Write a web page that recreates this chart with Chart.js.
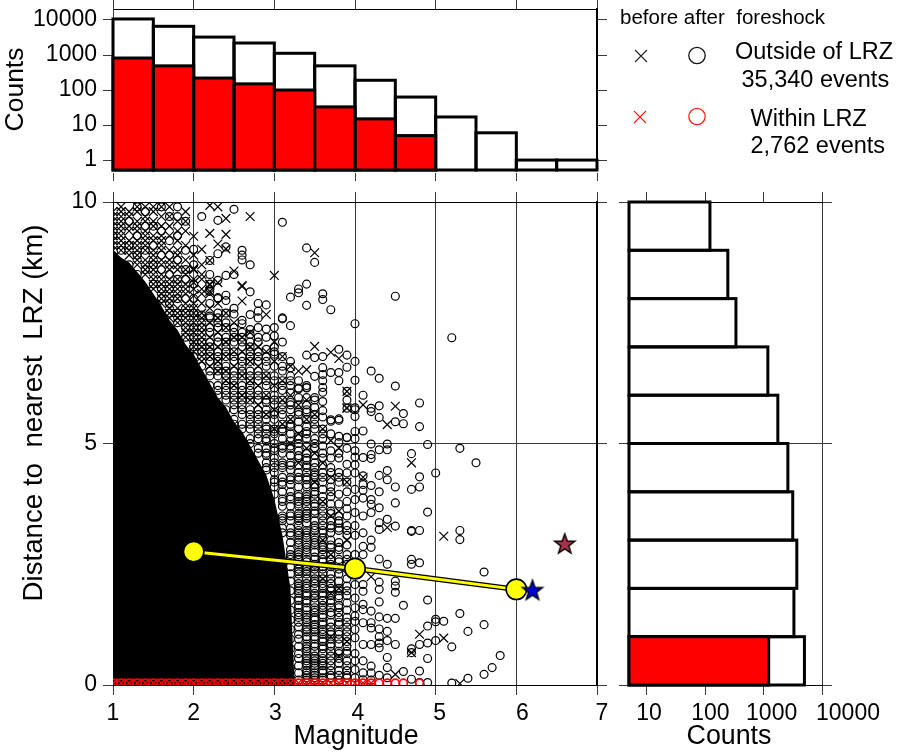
<!DOCTYPE html>
<html><head><meta charset="utf-8">
<style>html,body{margin:0;padding:0;background:#fff;width:898px;height:753px;overflow:hidden}
canvas{position:absolute}</style>
<script src="https://cdn.jsdelivr.net/npm/chart.js@4"></script>
</head><body>
<canvas id="top" width="898" height="195" style="left:0;top:0"></canvas>
<canvas id="main" width="610" height="568" style="left:0;top:185px"></canvas>
<canvas id="side" width="288" height="568" style="left:610px;top:185px"></canvas>
<script>
// ---------- histograms ----------
const magBinCentres=[1.25,1.75,2.25,2.75,3.25,3.75,4.25,4.75,5.25,5.75,6.25,6.75];
const magCountsAll=[10700,6600,3250,2200,1120,490,190,63,17,6,1,1];
const magCountsWithin=[820,490,220,150,100,33,15,5];
const distBinCentres=[0.5,1.5,2.5,3.5,4.5,5.5,6.5,7.5,8.5,9.5];
const distCountsAll=[5000,3300,3700,3150,2600,1750,1180,335,243,120];
const distCountsWithin=[1220];
const countTicks=[1,10,100,1000,10000];
const sideCountTicks=[10,100,1000,10000];
const magTicks=[1,2,3,4,5,6,7];
const distTicks=[0,5,10];
// ---------- magnitude-binned means and the two mainshocks ----------
const meanMag=[2,4,6];
const meanDist=[2.76,2.41,1.98];
const starBlue=[6.2,1.96];
const starMaroon=[6.6,2.92];
// ---------- saturated black region: upper edge of solid ink ----------
const edgeM=[1.0,1.1,1.2,1.3,1.4,1.5,1.6,1.7,1.8,1.9,2.0,2.1,2.2,2.3,2.4,2.5,2.6,2.7,2.8,2.9,3.0,3.1,3.2,3.25];
const edgeD=[9.0,8.85,8.75,8.55,8.35,8.1,7.85,7.55,7.35,7.05,6.85,6.55,6.25,5.95,5.75,5.45,5.25,4.95,4.65,4.35,3.85,3.1,2.0,0];
// ---------- within LRZ (distance zero) ----------
const withinDist=0.04;
const withinCircleM=[1.0,1.1,1.2,1.3,1.4,1.5,1.6,1.7,1.8,1.9,2.0,2.1,2.2,2.3,2.4,2.5,2.6,2.7,2.8,2.9,3.0,3.1,3.2,3.3,3.4,3.5,3.6,3.7,3.8,3.9,4.0,4.1,4.2,4.3,4.4,4.5,4.6,4.8];
const withinCrossM=[1.0,1.1,1.2,1.3,1.4,1.5,1.6,1.7,1.8,1.9,2.0,2.1,2.2,2.3,2.4,2.5,2.6,2.7,2.8,2.9,3.0,3.1,3.2,3.3,3.4,3.5,3.6,3.7,3.8,3.9,4.0,4.1,4.2];
// ---------- outside LRZ, after foreshock (circles), distances per magnitude ----------
const after10=[9.3,8.8];
const after11=[9.0,8.6];
const after12=[9.6,9.1,8.7];
const after13=[9.9,9.3,8.9,8.5];
const after14=[9.8,9.5,9.0,8.6];
const after15=[9.5,9.1,8.7,8.3];
const after16=[9.9,9.4,8.9,8.6,8.2,8.0];
const after17=[9.7,9.2,8.9,8.5,8.2,7.9,7.7];
const after18=[9.9,9.7,9.3,8.8,8.4,8.0,7.7,7.5];
const after19=[9.6,9.0,8.6,8.4,8.0,7.7,7.4,7.2];
const after20=[9.02,8.7,8.3,8.0,7.7,7.4,7.2,7.0,6.8];
const after21=[9.7,7.66,7.4,7.1,6.9,6.6,6.3,6.1];
const after22=[8.79,8.3,8.15,7.64,7.4,7.1,6.9,6.7,6.4,6.2,6.0,8.5,7.9,7.6,7.3,7.0,6.8,6.5];
const after23=[9.62,8.93,8.38,8.02,7.7,7.5,7.2,6.9,6.7,6.5,6.2,6.0,5.8,8.0,7.6,7.4,7.1,6.8,6.6,6.4,6.1];
const after24=[9.07,8.48,8.07,7.96,7.7,7.4,7.2,7.0,6.8,6.5,6.3,6.1,5.9,5.7,7.5,7.1,6.9,6.6,6.4,6.2,6.0];
const after25=[9.85,8.5,7.8,7.68,7.4,7.2,6.9,6.7,6.5,6.3,6.1,5.9,5.7,5.5,5.4,7.3,7.1,6.8,6.4,6.2,6.0,5.8];
const after26=[9.0,8.9,8.8,7.55,7.48,7.2,7.0,6.8,6.6,6.4,6.2,6.0,5.8,5.6,5.4,5.3,7.3,7.1,6.7,6.5,6.1,5.9,5.7];
const after27=[8.7,8.14,7.67,7.36,7.26,7.0,6.9,6.7,6.5,6.3,6.1,5.9,5.7,5.5,5.3,5.1,5.0,7.1,6.8,6.4,6.2,6.0,5.6,5.4];
const after28=[7.9,7.74,7.6,7.2,6.9,6.7,6.5,6.3,6.1,5.9,5.7,5.5,5.3,5.1,4.9,4.8,7.4,7.1,6.8,6.4,6.0,5.6,5.4,5.2];
const after29=[7.87,7.37,6.95,6.8,6.6,6.4,6.2,6.0,5.85,5.7,5.5,5.35,5.2,5.05,4.9,4.75,4.6,4.45,7.2,6.7,6.3,5.9,5.6,5.3,5.1,4.8,4.5];
const after30=[7.4,7.23,7.0,6.85,6.6,6.3,6.15,6.0,5.8,5.65,5.5,5.3,5.2,5.0,4.85,4.7,4.6,4.4,4.25,4.1,3.95,6.9,6.4,5.9,5.6,5.25,4.9,4.5,4.2];
const after31=[9.58,7.6,7.58,7.1,6.8,6.5,6.3,6.1,5.9,5.7,5.6,5.4,5.25,5.1,4.9,4.8,4.6,4.5,4.3,4.15,4.0,3.85,3.7,3.5,3.4,3.25,6.6,6.2,5.8,5.3,4.95,4.55,4.2,3.8,3.45,3.15];
const after32=[8.03,7.44,6.7,6.57,6.4,6.2,6.05,5.85,5.7,5.5,5.35,5.2,5.05,4.9,4.75,4.6,4.45,4.3,4.15,4.0,3.85,3.7,3.55,3.4,3.25,3.1,2.95,2.8,2.65,6.3,5.8,5.4,4.95,4.55,4.25,3.9,3.5,3.15,2.7,2.45,2.6,2.3,2.15,1.95,1.75,1.55,1.35,1.15,0.95,0.75,0.55,0.35,0.15];
const after33=[8.2,8.12,6.15,6.13,5.95,5.8,5.6,5.45,5.3,5.15,5.0,4.85,4.7,4.55,4.4,4.25,4.1,3.95,3.8,3.7,3.55,3.4,3.3,3.15,3.0,2.9,2.75,2.6,2.5,2.35,2.2,2.05,1.95,1.8,1.65,1.5,1.4,6.3,5.65,5.1,4.75,4.3,3.9,3.5,3.1,2.7,2.4,2.0,1.6,1.45,1.3,1.2,1.05,0.95,0.8,0.65,0.55,0.4,0.25,0.1,3.75,3.45,3.2,2.95,2.65,2.3,2.1,1.9,1.75];
const after34=[9.05,8.3,7.86,6.83,6.16,6.15,5.95,5.8,5.65,5.5,5.35,5.25,5.1,4.95,4.8,4.65,4.55,4.4,4.25,4.1,3.95,3.8,3.6,3.5,3.35,3.2,3.05,2.9,2.75,2.6,2.45,2.3,2.2,2.05,1.9,1.75,1.6,1.45,1.3,1.15,1.0,0.85,0.7,0.55,0.4,0.25,0.1,6.2,5.7,5.2,4.7,4.3,3.9,3.55,3.15,2.8,2.4,2.1,1.7,1.4,1.1,0.8,0.5,0.2,3.7,3.45,3.1,2.85,2.55,2.35,2.0,1.85,1.55,1.35,1.2,0.95,0.75,0.6,0.45,0.3,0.15,4.5,4.15,3.85];
const after35=[8.75,6.78,6.39,5.95,5.75,5.6,5.4,5.3,5.1,4.9,4.75,4.6,4.4,4.3,4.15,4.0,3.85,3.7,3.55,3.4,3.2,3.05,2.9,2.75,2.6,2.45,2.3,2.15,2.0,1.85,1.7,1.55,1.4,1.25,1.1,0.95,0.8,0.6,0.5,0.35,0.2,0.1,5.9,5.5,5.0,4.5,4.1,3.75,3.3,2.95,2.5,2.2,1.8,1.5,1.15,0.7,0.4,3.6,3.25,3.0,2.65,2.4,2.1,1.9,1.6,1.35,1.2,1.0,0.85,0.55,0.45,0.25,0.15,4.35,3.95];
const after36=[8.1,7.98,6.8,6.57,6.43,6.3,6.16,6.06,5.87,5.68,5.55,5.3,5.1,4.95,4.7,4.55,4.4,4.2,4.05,3.9,3.7,3.6,3.4,3.2,3.05,2.9,2.7,2.55,2.4,2.2,2.05,1.9,1.75,1.55,1.4,1.25,1.05,0.9,0.75,0.55,0.4,0.25,0.1,5.2,4.8,4.3,3.8,3.3,2.8,2.45,2.0,1.6,1.15,0.8,0.5,3.5,3.15,2.85,2.6,2.3,2.1,1.85,1.65,1.45,1.3,1.1,0.95,0.65,0.45,0.3,0.15];
const after37=[7.77,6.47,5.49,5.46,5.2,4.85,4.7,4.4,4.25,4.1,3.9,3.75,3.55,3.4,3.15,3.0,2.85,2.6,2.45,2.3,2.1,1.95,1.75,1.6,1.45,1.2,1.05,0.85,0.7,0.5,0.3,0.15,4.5,4.0,3.3,2.7,2.2,1.7,1.3,0.95,0.6,3.6,3.25,2.9,2.5,2.0,1.85,1.5,1.1,0.8,0.4,0.2];
const after38=[6.95,6.47,6.3,5.51,5.48,5.15,5.02,4.7,4.4,4.2,3.95,3.75,3.5,3.35,3.2,2.95,2.8,2.55,2.3,2.15,1.95,1.8,1.6,1.4,1.25,1.05,0.85,0.65,0.45,0.3,0.1,4.8,4.3,3.4,2.6,2.0,1.5,1.1,0.7,3.25,2.85,2.4,1.85,1.65,1.3,0.95,0.55,0.2];
const after39=[6.83,6.58,6.08,5.9,5.73,5.13,5.12,4.57,4.39,4.2,4.0,3.8,3.65,3.3,3.1,2.9,2.7,2.4,2.2,2.05,1.85,1.55,1.4,1.2,1.0,0.8,0.65,0.5,0.3,0.15,4.9,3.5,2.6,1.7,1.1,0.7,3.2,2.5,1.95,1.3,0.9,0.4,0.2];
const after40=[7.48,6.7,6.31,5.74,5.7,5.56,5.25,5.1,4.85,4.72,4.56,4.39,4.05,3.84,3.57,3.3,3.1,2.7,2.08,1.8,1.6,1.43,1.32,1.15,0.98,0.65,0.5,0.32,0.15];
const after41=[6.0,5.26,4.71,4.33,4.15,4.03,3.87,3.5,3.15,2.87,2.7,2.08,1.94,1.67,1.56,1.29,0.84,0.5,0.25,0.11];
const after42=[6.5,5.73,5.66,4.99,4.77,4.69,4.13,3.84,3.74,3.57,3.0,2.85,1.53,1.29,1.18,0.84,0.39,0.25,0.1];
const after43=[6.35,5.78,5.54,4.87,4.34,4.0,3.67,3.36,3.22,2.61,2.13,1.98,1.72,1.41,1.16,1.0,0.87,0.77,0.2];
const after44=[4.99,4.87,4.44,4.25,3.43,2.5,1.38,1.11,0.92,0.57,0.36,0.15];
const after45=[8.05,6.19,5.45,4.1,3.77,3.29,2.15,2.05,1.92,1.38,0.84];
const after46=[5.62,5.41,1.65,0.28];
const after47=[4.79,4.05,3.2,3.18,2.6,2.5,0.75,0.67,0.12];
const after48=[5.84,5.35,4.31,4.1,3.2,2.53,0.84,0.29,0.05];
const after49=[4.98,3.58,1.76,1.22,0.87,0.55,0.05];
const after50=[4.39,1.36,1.31,0.92];
const after51=[1.32];
const after52=[7.19,0.79,0.04];
const after53=[4.9,3.2,3.01,1.48];
const after54=[1.11,0.14];
const after55=[4.6];
const after56=[2.34,1.25,0.22];
const after57=[0.36];
const after58=[0.61];
const afterColumns=[[1.0,after10],[1.1,after11],[1.2,after12],[1.3,after13],[1.4,after14],[1.5,after15],[1.6,after16],[1.7,after17],[1.8,after18],[1.9,after19],[2.0,after20],[2.1,after21],[2.2,after22],[2.3,after23],[2.4,after24],[2.5,after25],[2.6,after26],[2.7,after27],[2.8,after28],[2.9,after29],[3.0,after30],[3.1,after31],[3.2,after32],[3.3,after33],[3.4,after34],[3.5,after35],[3.6,after36],[3.7,after37],[3.8,after38],[3.9,after39],[4.0,after40],[4.1,after41],[4.2,after42],[4.3,after43],[4.4,after44],[4.5,after45],[4.6,after46],[4.7,after47],[4.8,after48],[4.9,after49],[5.0,after50],[5.1,after51],[5.2,after52],[5.3,after53],[5.4,after54],[5.5,after55],[5.6,after56],[5.7,after57],[5.8,after58]];
// ---------- outside LRZ, before foreshock (crosses) ----------
const before10=[9.8,9.6,9.4,9.2,9.0,9.7,9.5,9.3,9.1];
const before11=[9.9,9.7,9.5,9.3,9.1,9.8,9.6,9.4,9.2,9.0];
const before12=[9.8,9.5,9.2,9.0,9.7,9.4,9.1,8.9];
const before13=[9.9,9.6,9.4,9.1,8.9,8.7,9.8,9.5,9.2,9.0,8.8];
const before14=[9.7,9.4,9.2,9.0,8.7,8.5,9.9,9.6,9.3,9.1,8.8,8.6];
const before15=[9.9,9.6,9.3,9.0,8.8,8.6,8.4,8.2,9.8,9.5,9.2,8.9,8.7,8.5,8.3];
const before16=[9.7,9.3,9.1,8.8,8.5,8.3,8.1,7.9,9.9,9.5,9.2,9.0,8.7,8.4,8.2,8.0];
const before17=[9.9,9.5,9.0,8.7,8.4,8.2,8.0,7.8,7.6,9.7,9.3,8.8,8.6,8.3,8.1,7.9,7.7];
const before18=[9.6,9.2,8.9,8.6,8.3,8.1,7.8,7.6,9.4,9.0,8.7,8.4,8.2,8.0,7.7,7.5];
const before19=[9.8,9.4,8.8,8.5,8.2,7.9,7.7,7.5,7.3,9.6,9.1,8.6,8.3,8.1,7.8,7.6,7.4,7.2];
const before20=[9.29,8.62,8.6,8.33,8.06,7.8,7.6,7.4,7.2,7.0,8.9,8.4,8.2,7.9,7.7,7.5,7.3,7.1,6.9];
const before21=[9.02,8.4,8.1,7.7,7.5,7.3,7.1,6.9,6.7,8.7,8.5,8.2,7.9,7.6,7.4,7.2,7.0,6.8];
const before22=[9.93,9.35,8.79,8.3,8.28,8.15,8.1,7.8,7.5,7.2,7.0,6.8,6.6];
const before23=[9.9,9.13,8.33,7.9,7.6,7.3,7.0,6.7,6.5];
const before24=[9.66,9.33,9.03,7.7,7.4,7.1,6.8,6.5,6.3];
const before25=[8.57,7.5,7.2,6.9,6.6,6.2];
const before26=[8.27,8.25,7.95,7.2,6.9,6.4,6.0];
const before27=[9.7,7.3,7.0,6.7,6.3,5.9];
const before28=[7.0,6.6,6.2,5.8];
const before29=[7.67,6.9,6.4,6.0,5.6];
const before30=[8.48,7.1,6.7,6.2,5.7,5.3];
const before31=[6.8,6.3,5.9,5.4];
const before32=[6.6,6.0,5.5,5.0];
const before33=[6.5,5.8,5.2,4.6];
const before34=[6.53,5.9,5.5,4.9];
const before35=[8.95,7.01,5.6,4.8,4.2];
const before36=[5.3,4.6,3.8,3.0,2.2];
const before37=[6.89,5.06,4.3,3.5,2.7,1.9,1.0];
const before38=[6.76,4.9,3.6,2.0,0.6];
const before39=[6.08,5.74,5.73,4.2,3.0,0.9];
const before41=[5.8,4.3];
const before42=[2.24];
const before44=[5.39,3.26];
const before45=[5.77,0.22];
const before47=[4.6,0.67];
const before48=[1.05];
const before51=[3.08,0.97];
const before53=[0.03];
const beforeColumns=[[1.0,before10],[1.1,before11],[1.2,before12],[1.3,before13],[1.4,before14],[1.5,before15],[1.6,before16],[1.7,before17],[1.8,before18],[1.9,before19],[2.0,before20],[2.1,before21],[2.2,before22],[2.3,before23],[2.4,before24],[2.5,before25],[2.6,before26],[2.7,before27],[2.8,before28],[2.9,before29],[3.0,before30],[3.1,before31],[3.2,before32],[3.3,before33],[3.4,before34],[3.5,before35],[3.6,before36],[3.7,before37],[3.8,before38],[3.9,before39],[4.1,before41],[4.2,before42],[4.4,before44],[4.5,before45],[4.7,before47],[4.8,before48],[5.1,before51],[5.3,before53]];

// ---------- texts ----------
const legendHeader="before after  foreshock";
const legendOutside=["Outside of LRZ","35,340 events"];
const legendWithin=["Within LRZ","2,762 events"];
const distanceTitle="Distance to  nearest  LRZ (km)";
const sideTitle="Counts";
const magnitudeTitle="Magnitude";

const FONT='"Liberation Sans", Arial, Helvetica, sans-serif';
const INK='#000', AXIS='#3a3a3a';
const flat=cols=>cols.flatMap(([m,ds])=>ds.map(d=>({x:m,y:d})));
const pairs=(xs,ys)=>xs.map((x,i)=>({x,y:Array.isArray(ys)?ys[i]:ys}));

Chart.defaults.font.family=FONT;
Chart.defaults.color=INK;
Chart.defaults.animation=false;
Chart.defaults.events=[];
Chart.defaults.plugins.legend.display=false;
Chart.defaults.plugins.tooltip.enabled=false;

function starImage(fill){
  const c=document.createElement('canvas');c.width=c.height=26;
  const g=c.getContext('2d');g.beginPath();
  for(let i=0;i<10;i++){const r=i%2?4.3:10.6,a=-Math.PI/2+i*Math.PI/5;
    g[i?'lineTo':'moveTo'](13+r*Math.cos(a),13.5+r*Math.sin(a));}
  g.closePath();g.fillStyle=fill;g.fill();g.lineWidth=1.4;g.strokeStyle=INK;g.stroke();
  return c;
}
const fixed=(size,isX)=>s=>{ if(isX) s.height=size; else s.width=size;
  s.paddingTop=s.paddingBottom=s.paddingLeft=s.paddingRight=0; };
const setTicks=vals=>s=>{s.ticks=vals.map(v=>({value:v}));};
const tickFont={size:23,family:FONT};

// outline every bar with a stroke centred on its edge
const barOutline={id:'barOutline',afterDatasetDraw(chart,args){
  const g=chart.ctx;g.save();g.lineWidth=3;g.strokeStyle=INK;g.lineJoin='miter';
  args.meta.data.forEach(el=>{
    const p=el.getProps(['x','y','base','width','height'],true);
    if(el.horizontal) g.strokeRect(p.base,p.y-p.height/2,p.x-p.base,p.height);
    else g.strokeRect(p.x-p.width/2,p.y,p.width,p.base-p.y);
  });g.restore();
}};

// key and header beside the top histogram
const legendKey={id:'legendKey',afterDraw(chart){
  const g=chart.ctx;g.save();g.textBaseline='middle';g.fillStyle=INK;g.textAlign='left';
  g.font='20.5px '+FONT;g.fillText(legendHeader,620,18);
  g.font='23.5px '+FONT;
  g.fillText(legendOutside[0],735,53);g.fillText(legendOutside[1],741.5,81);
  g.fillText(legendWithin[0],750.5,120);g.fillText(legendWithin[1],750.5,147);
  const cross=(x,y,c)=>{g.strokeStyle=c;g.lineWidth=1.1;g.beginPath();
    g.moveTo(x-6,y-6);g.lineTo(x+6,y+6);g.moveTo(x+6,y-6);g.lineTo(x-6,y+6);g.stroke();};
  const ring=(x,y,c)=>{g.strokeStyle=c;g.lineWidth=1.3;g.beginPath();g.arc(x,y,8.2,0,7);g.stroke();};
  cross(641,56,'#222');ring(697,55.5,'#111');cross(640,117,'#ff2010');ring(697,116.5,'#ff2010');
  g.restore();
}};

// rotated title sitting above the axis centre, as in the figure
const distanceLabel={id:'distanceLabel',afterDraw(chart){
  const g=chart.ctx;g.save();g.translate(34,413-185);g.rotate(-Math.PI/2);
  g.font='27.7px '+FONT;g.fillStyle=INK;g.textAlign='center';g.textBaseline='middle';
  g.fillText(distanceTitle,0,0);g.restore();
}};

// bottom tick labels and titles sit slightly right of their ticks in the figure
const xLabelNudge={main:[0,0,1,3,4,6,5],side:[2,5,8,26]};
const shiftedXLabels={id:'shiftedXLabels',afterDraw(chart,args,opts){
  const s=chart.scales.x,g=chart.ctx;g.save();g.font='23px '+FONT;g.fillStyle=INK;
  g.textAlign='center';g.textBaseline='middle';
  opts.values.forEach((v,i)=>g.fillText(String(v),s.getPixelForValue(v)+opts.nudge[i],714-185));
  g.font='26.8px '+FONT;g.fillText(opts.title,opts.titleX,737-185);
  g.restore();
}};

// ---------- top histogram ----------
new Chart(document.getElementById('top'),{
  type:'bar',
  data:{datasets:[
    {label:'Within LRZ',data:pairs(magBinCentres.slice(0,magCountsWithin.length),magCountsWithin),backgroundColor:'#ff0000',borderWidth:0,order:1},
    {label:'All',data:pairs(magBinCentres,magCountsAll),backgroundColor:'#ffffff',borderWidth:0,order:2}
  ]},
  plugins:[barOutline,legendKey],
  options:{responsive:false,layout:{padding:0},
    datasets:{bar:{barPercentage:1,categoryPercentage:1,grouped:false}},
    scales:{
      x:{type:'linear',offset:false,position:'bottom',min:1,max:7,afterFit:fixed(25,true),afterBuildTicks:setTicks(magTicks),
        ticks:{display:false},border:{display:false},
        grid:{offset:false,drawOnChartArea:false,tickLength:11,color:AXIS,tickBorderDash:[0,3,8,100]}},
      xTop:{type:'linear',offset:false,axis:'x',position:'top',min:1,max:7,afterFit:fixed(9,true),afterBuildTicks:setTicks(magTicks),
        ticks:{display:false},border:{display:true,color:INK,width:1},
        grid:{offset:false,drawOnChartArea:false,tickLength:9,color:AXIS}},
      y:{type:'logarithmic',position:'left',min:0.52,max:20600,afterFit:fixed(113,false),afterBuildTicks:setTicks(countTicks),
        title:{display:true,text:'Counts',font:{size:26.5,family:FONT},padding:0,color:INK},
        ticks:{font:tickFont,padding:6,color:INK,autoSkip:false,callback:v=>String(v)},
        border:{display:true,color:AXIS},grid:{drawOnChartArea:false,tickLength:10,color:AXIS}},
      yRight:{type:'logarithmic',axis:'y',position:'right',min:0.52,max:20600,afterFit:fixed(301,false),afterBuildTicks:setTicks(countTicks),
        ticks:{display:false},border:{display:true,color:INK,width:2},grid:{drawOnChartArea:false,tickLength:10,color:AXIS}}
    }}
});

// ---------- main scatter ----------
const ring=(label,data,color,width,order)=>({type:'scatter',label,data,pointStyle:'circle',pointRadius:3.95,pointBorderWidth:width,pointBorderColor:color,pointBackgroundColor:'transparent',showLine:false,order,clip:{left:0,top:0,right:0,bottom:0}});
const xmark=(label,data,color,width,order)=>({type:'scatter',label,data,pointStyle:'crossRot',pointRadius:6.2,pointBorderWidth:width,pointBorderColor:color,showLine:false,order,clip:{left:0,top:0,right:0,bottom:0}});
new Chart(document.getElementById('main'),{
  type:'scatter',
  data:{datasets:[
    {label:'Saturated',type:'line',data:pairs(edgeM,edgeD),pointRadius:0,borderWidth:0,borderColor:INK,backgroundColor:INK,fill:{target:{value:0}},order:9,clip:0},
    xmark('Before, outside LRZ',flat(beforeColumns),'#000',1.2,8),
    ring('After, outside LRZ',flat(afterColumns),'#000',1.2,7),
    xmark('Before, within LRZ',pairs(withinCrossM,withinDist),'#ff0000',1.5,6),
    ring('After, within LRZ',pairs(withinCircleM,withinDist),'#ff0000',1.6,5),
    {label:'Mean edge',type:'scatter',showLine:true,data:pairs(meanMag,meanDist),borderColor:INK,borderWidth:5.5,pointRadius:0,order:4},
    {label:'Mean',type:'scatter',showLine:true,data:pairs(meanMag,meanDist),borderColor:'#ffff00',borderWidth:3,pointRadius:10.2,pointBorderWidth:1.6,pointBorderColor:INK,pointBackgroundColor:'#ffff00',order:3},
    {label:'Mainshock',type:'scatter',data:[{x:starMaroon[0],y:starMaroon[1]}],pointStyle:starImage('#a8304a'),order:2},
    {label:'Foreshock',type:'scatter',data:[{x:starBlue[0],y:starBlue[1]}],pointStyle:starImage('#0000d8'),order:1}
  ]},
  plugins:[distanceLabel,shiftedXLabels],
  options:{responsive:false,layout:{padding:0},
    plugins:{shiftedXLabels:{values:magTicks,nudge:xLabelNudge.main,title:magnitudeTitle,titleX:356}},
    scales:{
      x:{type:'linear',position:'bottom',min:1,max:7,afterFit:fixed(68,true),afterBuildTicks:setTicks(magTicks),
        ticks:{display:false},
        border:{display:true,color:INK},grid:{color:AXIS,tickLength:10}},
      xTop:{type:'linear',axis:'x',position:'top',min:1,max:7,afterFit:fixed(17,true),afterBuildTicks:setTicks(magTicks),
        ticks:{display:false},border:{display:true,color:INK},grid:{drawOnChartArea:false,color:AXIS,tickLength:10}},
      y:{type:'linear',position:'left',min:0,max:10,afterFit:fixed(113,false),afterBuildTicks:setTicks(distTicks),
        ticks:{font:tickFont,padding:6,color:INK,autoSkip:false,callback:v=>String(v)},
        border:{display:true,color:INK},grid:{color:AXIS,tickLength:10}},
      yRight:{type:'linear',axis:'y',position:'right',min:0,max:10,afterFit:fixed(13,false),afterBuildTicks:setTicks(distTicks),
        ticks:{display:false},border:{display:true,color:INK,width:2},grid:{drawOnChartArea:false,color:AXIS,tickLength:10}}
    }}
});

// ---------- right histogram ----------
new Chart(document.getElementById('side'),{
  type:'bar',
  data:{datasets:[
    {label:'Within LRZ',data:distCountsWithin.map((v,i)=>({x:v,y:distBinCentres[i]})),backgroundColor:'#ff0000',borderWidth:0,order:1},
    {label:'All',data:distCountsAll.map((v,i)=>({x:v,y:distBinCentres[i]})),backgroundColor:'#ffffff',borderWidth:0,order:2}
  ]},
  plugins:[barOutline,shiftedXLabels],
  options:{responsive:false,indexAxis:'y',layout:{padding:0},
    plugins:{shiftedXLabels:{values:sideCountTicks,nudge:xLabelNudge.side,title:sideTitle,titleX:729-610}},
    datasets:{bar:{barPercentage:1,categoryPercentage:1,grouped:false}},
    scales:{
      x:{type:'logarithmic',position:'bottom',min:4.92,max:10000,afterFit:fixed(68,true),afterBuildTicks:setTicks(sideCountTicks),
        ticks:{display:false},
        border:{display:true,color:INK},
        grid:{tickLength:10,color:c=>c.tick&&c.tick.value===10000?AXIS:'rgba(0,0,0,0)',tickColor:AXIS}},
      xTop:{type:'logarithmic',axis:'x',position:'top',min:4.92,max:10000,afterFit:fixed(17,true),afterBuildTicks:setTicks(sideCountTicks),
        ticks:{display:false},border:{display:true,color:INK},grid:{drawOnChartArea:false,color:AXIS,tickLength:10}},
      y:{type:'linear',offset:false,position:'left',min:0,max:10,afterFit:fixed(19,false),afterBuildTicks:setTicks(distTicks),
        ticks:{display:false},border:{display:true,color:INK},grid:{offset:false,color:AXIS,tickLength:10}},
      yRight:{type:'linear',offset:false,axis:'y',position:'right',min:0,max:10,afterFit:fixed(76,false),afterBuildTicks:setTicks(distTicks),
        ticks:{display:false},border:{display:false},grid:{offset:false,drawOnChartArea:false,color:AXIS,tickLength:10}}
    }}
});
</script>
</body></html>
